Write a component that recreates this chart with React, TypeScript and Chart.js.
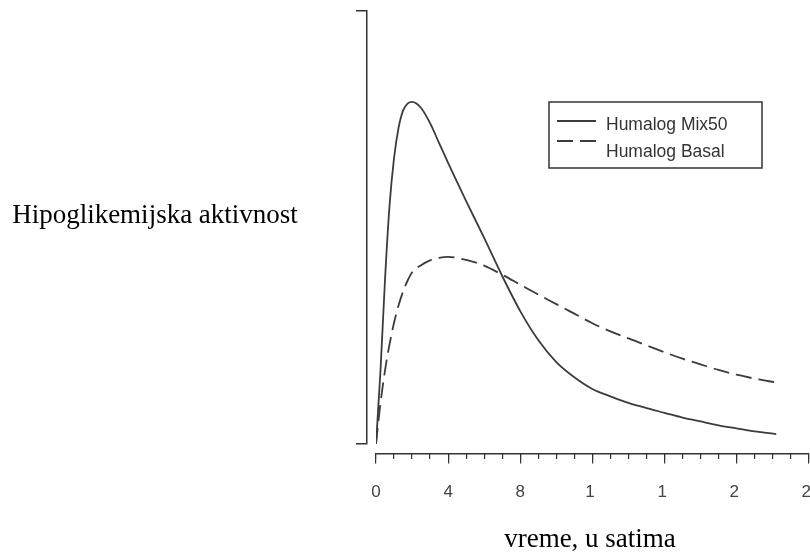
import React, { useEffect, useRef } from "react";
import { Chart, registerables } from "chart.js";

Chart.register(...registerables);

// time in hours
const HOURS = [0, 0.25, 0.5, 0.75, 1, 1.25, 1.5, 1.75, 2, 2.5, 3, 3.5, 4, 5, 6, 7, 8, 9, 10, 11, 12, 13, 14, 15, 16, 17, 18, 19, 20, 21, 22.2];
// relative hypoglycaemic activity (0..100 of axis height)
const MIX50 = [0, 17, 38, 55, 66, 73, 77, 78.6, 79, 77.6, 74.1, 69.5, 64.9, 56.1, 47.6, 38.8, 30.7, 24.0, 18.9, 15.4, 12.7, 11.0, 9.5, 8.3, 7.2, 6.1, 5.2, 4.3, 3.6, 2.9, 2.3];
const BASAL = [0, 9.5, 17, 23, 28, 32, 35.2, 37.7, 39.6, 41.3, 42.4, 43.0, 43.2, 42.5, 41.2, 39.1, 36.8, 34.5, 32.3, 30.1, 27.9, 26.0, 24.4, 22.8, 21.2, 19.7, 18.4, 17.1, 16.0, 15.1, 14.2];

const SERIES_LABELS = ["Humalog Mix50", "Humalog Basal"];
const X_TICK_LABELS = ["0", "4", "8", "1", "1", "2", "2"];
const X_TITLE = "vreme, u satima";
const Y_TITLE = "Hipoglikemijska aktivnost";

const SANS = '"Liberation Sans", Arial, sans-serif';
const SERIF = '"Liberation Serif", "Times New Roman", serif';

const textPlugin = {
  id: "textAndLegend",
  afterDraw(chart: any) {
    const ctx = chart.ctx as CanvasRenderingContext2D;
    ctx.save();
    ctx.fillStyle = "#000";
    ctx.font = `27px ${SERIF}`;
    ctx.textBaseline = "alphabetic";
    ctx.textAlign = "center";
    ctx.fillText(X_TITLE, 590, 547);
    ctx.fillText(Y_TITLE, 155, 223);

    // legend box
    ctx.strokeStyle = "#333";
    ctx.lineWidth = 1.5;
    ctx.strokeRect(549, 102, 213, 66);
    const rows = [
      { ly: 121, ty: 130 },
      { ly: 141, ty: 157 },
    ];
    chart.data.datasets.forEach((ds: any, i: number) => {
      ctx.beginPath();
      ctx.setLineDash(ds.borderDash || []);
      ctx.strokeStyle = ds.borderColor;
      ctx.lineWidth = ds.borderWidth;
      ctx.moveTo(557, rows[i].ly);
      ctx.lineTo(596, rows[i].ly);
      ctx.stroke();
      ctx.setLineDash([]);
      ctx.fillStyle = "#333";
      ctx.font = `17.5px ${SANS}`;
      ctx.textAlign = "left";
      ctx.fillText(ds.label, 606, rows[i].ty);
    });
    ctx.restore();
  },
};

export default function App() {
  const ref = useRef<HTMLCanvasElement | null>(null);

  useEffect(() => {
    if (!ref.current) return;
    const axisColor = "#333";
    const chart = new Chart(ref.current, {
      type: "line",
      data: {
        datasets: [
          {
            label: SERIES_LABELS[0],
            data: HOURS.map((h, i) => ({ x: h, y: MIX50[i] })),
            borderColor: "#3c3c3c",
            borderWidth: 1.8,
            pointRadius: 0,
            fill: false,
            cubicInterpolationMode: "monotone",
          },
          {
            label: SERIES_LABELS[1],
            data: HOURS.map((h, i) => ({ x: h, y: BASAL[i] })),
            borderColor: "#3c3c3c",
            borderWidth: 1.8,
            borderDash: [16, 7],
            pointRadius: 0,
            fill: false,
            cubicInterpolationMode: "monotone",
          },
        ],
      },
      options: {
        animation: false,
        responsive: false,
        layout: { padding: { left: 376, top: 11, right: 51.3, bottom: 108 } },
        plugins: { legend: { display: false }, tooltip: { enabled: false } },
        scales: {
          x: {
            type: "linear",
            min: 0,
            max: 24,
            position: { y: -2.31 } as any,
            ticks: {
              stepSize: 4,
              autoSkip: false,
              maxRotation: 0,
              padding: 19,
              color: "#444",
              font: { family: SANS, size: 17 },
              callback: (value: any, index: number) => {
                const l = X_TICK_LABELS[index] ?? "";
                return Number(value) >= 10 ? l + " " : l;
              },
            },
            grid: { drawOnChartArea: false, tickLength: 9, color: axisColor, lineWidth: 1.2 },
            border: { display: true, color: axisColor, width: 1.5 },
          },
          x2: {
            type: "linear",
            axis: "x",
            min: 0,
            max: 24,
            position: { y: -2.31 } as any,
            ticks: { stepSize: 1, display: false },
            grid: { drawOnChartArea: false, tickLength: 5, color: axisColor, lineWidth: 1.2 },
            border: { display: false },
          },
          y: {
            type: "linear",
            min: 0,
            max: 100,
            position: { x: -0.5 } as any,
            afterBuildTicks: (s: any) => {
              s.ticks = [{ value: 0 }, { value: 100 }];
            },
            ticks: { display: false },
            grid: { drawOnChartArea: false, tickLength: 10, color: axisColor, lineWidth: 1.5 },
            border: { display: true, color: axisColor, width: 1.5 },
          },
        },
      } as any,
      plugins: [textPlugin],
    });
    return () => chart.destroy();
  }, []);

  return (
    <div
      style={{
        position: "fixed",
        left: 0,
        top: 0,
        width: 810,
        height: 552,
        overflow: "hidden",
        background: "#fff",
      }}
    >
      <canvas ref={ref} width={860} height={552} style={{ display: "block" }} />
    </div>
  );
}
